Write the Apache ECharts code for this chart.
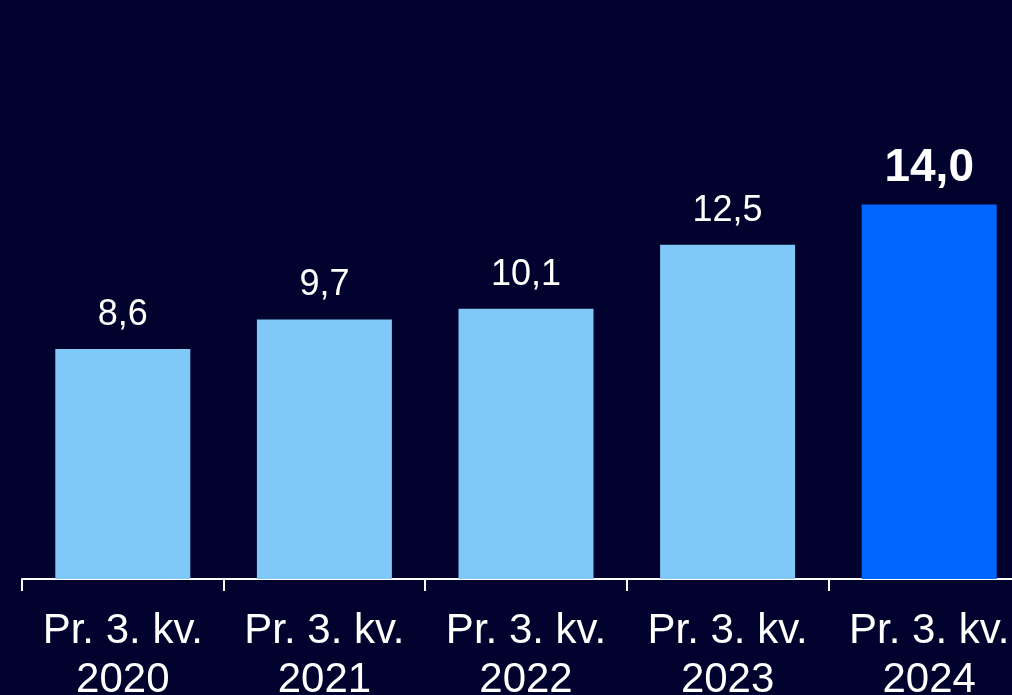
<!DOCTYPE html>
<html>
<head>
<meta charset="utf-8">
<script src="https://cdn.jsdelivr.net/npm/echarts@6/dist/echarts.min.js"></script>
<style>
html,body{margin:0;padding:0;background:#01022E;}
#c{width:1012px;height:695px;}
</style>
</head>
<body>
<div id="c"></div>
<script>
const categories = ["Pr. 3. kv.\n2020","Pr. 3. kv.\n2021","Pr. 3. kv.\n2022","Pr. 3. kv.\n2023","Pr. 3. kv.\n2024"];
const values = [8.6, 9.7, 10.1, 12.5, 14.0];
const labels = ["8,6","9,7","10,1","12,5","14,0"];
const highlightIndex = 4;

const chart = echarts.init(document.getElementById('c'), null, {renderer:'canvas'});
const font = '"Liberation Sans", Arial, sans-serif';
chart.setOption({
  backgroundColor: '#01022E',
  animation: false,
  grid: {left: 22, width: 1008, top: 44, bottom: 116, containLabel: false, outerBoundsMode: 'none'},
  xAxis: {
    type: 'category',
    data: categories,
    axisLine: {lineStyle: {color: '#ffffff', width: 2}},
    axisTick: {show: true, length: 12, lineStyle: {color: '#ffffff', width: 2}},
    axisLabel: {color: '#ffffff', fontSize: 42, fontFamily: font, lineHeight: 49, margin: 28, interval: 0, hideOverlap: false}
  },
  yAxis: {
    type: 'value', min: 0, max: 20,
    show: false, splitLine: {show: false}
  },
  series: [{
    type: 'bar',
    barWidth: 135,
    data: values.map((v, i) => ({
      value: v,
      itemStyle: {color: i === highlightIndex ? '#0066FF' : '#80C8F8'},
      label: {
        show: true, position: 'top',
        formatter: () => labels[i],
        color: '#ffffff',
        fontFamily: font,
        fontSize: i === highlightIndex ? 46 : 36,
        fontWeight: i === highlightIndex ? 'bold' : 'normal',
        distance: i === highlightIndex ? 13 : 16
      }
    }))
  }]
});
</script>
</body>
</html>
